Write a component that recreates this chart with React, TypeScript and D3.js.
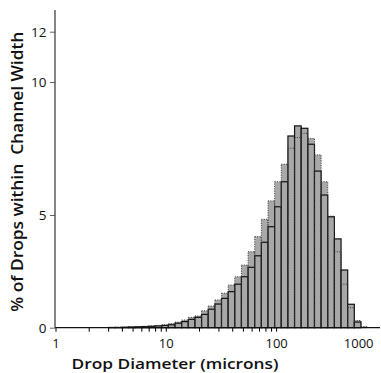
import React, { useEffect, useRef } from 'react'
import { select, scaleLog, scaleLinear, axisBottom, axisLeft } from 'd3'

// bin edges in microns (log spaced, 5 bins per octave)
const binEdges = [
  3.03, 3.48, 4.0, 4.59, 5.28, 6.06, 6.96, 8.0, 9.19, 10.56,
  12.13, 13.93, 16.0, 18.38, 21.11, 24.25, 27.86, 32.0, 36.76, 42.22,
  48.5, 55.72, 64.0, 73.52, 84.45, 97.01, 111.43, 128.0, 147.03, 168.9,
  194.01, 222.86, 256.0, 294.07, 337.79, 388.02, 445.72, 512.0, 588.13, 675.59
]

// solid outlined histogram (% per bin)
const solidPct = [
  0.01, 0.01, 0.02, 0.03, 0.04, 0.05, 0.06, 0.08, 0.1, 0.13,
  0.2, 0.27, 0.37, 0.46, 0.59, 0.82, 1.05, 1.3, 1.6, 1.93,
  2.26, 2.68, 3.19, 3.79, 4.48, 5.31, 6.25, 7.97, 8.35, 8.26,
  7.66, 6.65, 5.75, 4.92, 3.94, 2.56, 1.04, 0.25, 0
]

// dotted outlined histogram (% per bin)
const dottedPct = [
  0.01, 0.02, 0.03, 0.04, 0.05, 0.06, 0.08, 0.1, 0.13, 0.18,
  0.25, 0.34, 0.46, 0.52, 0.75, 0.96, 1.23, 1.53, 1.89, 2.26,
  2.78, 3.37, 4.04, 4.81, 5.53, 6.25, 6.91, 7.51, 7.91, 8.07,
  7.88, 7.26, 6.25, 4.95, 3.37, 1.93, 0.89, 0.32, 0.05
]

const xTicks = [1, 10, 100, 1000]
const xMinorTicks = [2, 3, 4, 5, 6, 7, 8, 9, 20, 30, 40, 50, 60, 70, 80, 90]
const yTicks = [0, 5, 10, 12]

const xTitle = 'Drop Diameter (microns)'
const yTitle = '% of Drops within  Channel Width'

const W = 381
const H = 373
const FONT = '"Open Sans", "DejaVu Sans", sans-serif'
const BAR_FILL = '#a8a8a8'

const App = () => {
  const svgRef = useRef(null)

  useEffect(() => {
    const svg = select(svgRef.current)
    svg.selectAll('*').remove()

    const x = scaleLog().domain([1, 1000]).range([55.5, 386.4])
    // the original y axis is not evenly spaced, so map each labelled tick
    const y = scaleLinear().domain([0, 5, 10, 12]).range([327.7, 215, 82, 31.7])

    const toBins = vals =>
      vals.map((v, i) => ({ x0: binEdges[i], x1: binEdges[i + 1], v })).filter(d => d.v > 0)

    const solid = toBins(solidPct)
    const dotted = toBins(dottedPct)

    const bars = svg.append('g')

    // dotted series fill (behind)
    bars.selectAll('.dfill')
      .data(dotted)
      .join('rect')
      .attr('class', 'dfill')
      .attr('x', d => x(d.x0))
      .attr('width', d => x(d.x1) - x(d.x0))
      .attr('y', d => y(d.v))
      .attr('height', d => y(0) - y(d.v))
      .attr('fill', BAR_FILL)

    // solid series
    bars.selectAll('.solid')
      .data(solid)
      .join('rect')
      .attr('class', 'solid')
      .attr('x', d => x(d.x0))
      .attr('width', d => x(d.x1) - x(d.x0))
      .attr('y', d => y(d.v))
      .attr('height', d => y(0) - y(d.v))
      .attr('fill', BAR_FILL)
      .attr('stroke', '#111')
      .attr('stroke-width', 1.2)

    // dotted outlines on top
    bars.selectAll('.dline')
      .data(dotted)
      .join('rect')
      .attr('class', 'dline')
      .attr('x', d => x(d.x0))
      .attr('width', d => x(d.x1) - x(d.x0))
      .attr('y', d => y(d.v))
      .attr('height', d => y(0) - y(d.v))
      .attr('fill', 'none')
      .attr('stroke', '#333')
      .attr('stroke-width', 1)
      .attr('stroke-dasharray', '1 1.4')

    // x axis
    const xAxisG = svg.append('g').attr('transform', `translate(0,${y(0)})`)
    xAxisG.call(axisBottom(x).tickValues(xTicks).tickSize(4).tickPadding(7.5).tickFormat(d => String(d)))
    xAxisG.append('g').call(axisBottom(x).tickValues(xMinorTicks).tickSize(4).tickFormat(() => ''))
    xAxisG.selectAll('.domain').remove()
    xAxisG.selectAll('text')
      .attr('font-family', FONT)
      .attr('font-size', 13)
      .attr('fill', '#111')
    // 1000 falls past the right edge; its label is pulled inside
    xAxisG.selectAll('.tick')
      .filter(d => d === 1000)
      .select('text')
      .attr('text-anchor', 'end')
      .attr('x', 373 - x(1000))
    xAxisG.append('line')
      .attr('x1', 55).attr('x2', 380)
      .attr('stroke', '#111').attr('stroke-width', 1.2)

    // y axis
    const yAxisG = svg.append('g').attr('transform', 'translate(55,0)')
    yAxisG.call(axisLeft(y).tickValues(yTicks).tickSize(5).tickPadding(3.5).tickFormat(d => String(d)))
    yAxisG.selectAll('.domain').remove()
    yAxisG.selectAll('.tick line').attr('stroke', '#666')
    yAxisG.selectAll('text')
      .attr('font-family', FONT)
      .attr('font-size', 13.5)
      .attr('fill', '#111')
    yAxisG.append('line')
      .attr('y1', 10).attr('y2', y(0))
      .attr('stroke', '#333').attr('stroke-width', 1.2)

    // titles
    svg.append('text')
      .attr('x', 175)
      .attr('y', 369)
      .attr('text-anchor', 'middle')
      .attr('font-family', FONT)
      .attr('font-weight', 600)
      .attr('font-size', 15)
      .attr('textLength', 207)
      .attr('lengthAdjust', 'spacingAndGlyphs')
      .attr('fill', '#111')
      .text(xTitle)

    svg.append('text')
      .attr('transform', 'translate(22.5,171.7) rotate(-90)')
      .attr('text-anchor', 'middle')
      .attr('font-family', FONT)
      .attr('font-weight', 600)
      .attr('font-size', 15.5)
      .attr('textLength', 280)
      .attr('lengthAdjust', 'spacingAndGlyphs')
      .style('white-space', 'pre')
      .attr('fill', '#111')
      .text(yTitle)
  }, [])

  return (
    <svg
      ref={svgRef}
      width={W}
      height={H}
      style={{ position: 'absolute', left: 0, top: 0, background: '#fff' }}
    />
  )
}

export default App
